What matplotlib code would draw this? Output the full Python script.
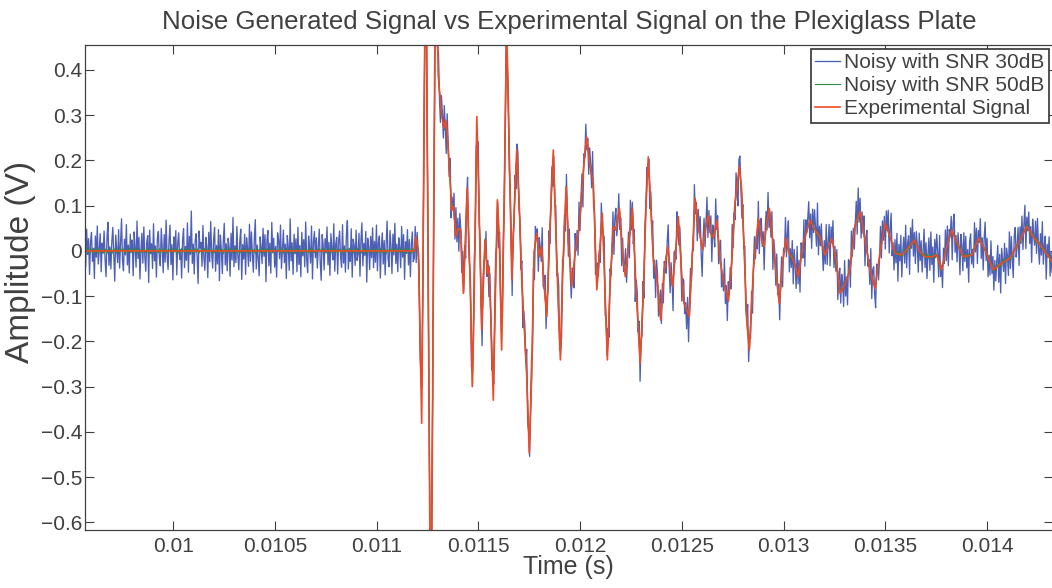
import numpy as np
import matplotlib.pyplot as plt

plt.rcParams['font.family'] = ['Liberation Sans', 'DejaVu Sans']

# experimental signal: time (s) / amplitude (V)
exp_t = [0.009564, 0.011185, 0.011193, 0.011205, 0.011221, 0.011241, 0.011266, 0.011289, 0.011303, 0.011311,
         0.011320, 0.011331, 0.011339, 0.011347, 0.011360, 0.011369, 0.011377, 0.011390, 0.011401, 0.011413,
         0.011426, 0.011445, 0.011459, 0.011470, 0.011478, 0.011492, 0.011503, 0.011516, 0.011532, 0.011544,
         0.011552, 0.011562, 0.011573, 0.011582, 0.011593, 0.011603, 0.011614, 0.011626, 0.011639, 0.011647,
         0.011664, 0.011677, 0.011688, 0.011701, 0.011713, 0.011724, 0.011737, 0.011750, 0.011762, 0.011773,
         0.011787, 0.011799, 0.011811, 0.011822, 0.011836, 0.011852, 0.011868, 0.011882, 0.011893, 0.011903,
         0.011914, 0.011931, 0.011942, 0.011959, 0.011975, 0.011996, 0.012016, 0.012032, 0.012049, 0.012065,
         0.012082, 0.012109, 0.012134, 0.012147, 0.012163, 0.012176, 0.012193, 0.012209, 0.012222, 0.012237,
         0.012257, 0.012273, 0.012295, 0.012311, 0.012324, 0.012335, 0.012347, 0.012360, 0.012377, 0.012396,
         0.012413, 0.012431, 0.012442, 0.012455, 0.012470, 0.012483, 0.012495, 0.012507, 0.012524, 0.012537,
         0.012549, 0.012565, 0.012581, 0.012603, 0.012618, 0.012630, 0.012642, 0.012655, 0.012672, 0.012688,
         0.012704, 0.012729, 0.012745, 0.012761, 0.012783, 0.012794, 0.012806, 0.012819, 0.012832, 0.012852,
         0.012876, 0.012893, 0.012904, 0.012917, 0.012930, 0.012947, 0.012967, 0.012979, 0.012996, 0.013012,
         0.013028, 0.013048, 0.013073, 0.013097, 0.013130, 0.013155, 0.013179, 0.013204, 0.013237, 0.013261,
         0.013278, 0.013302, 0.013327, 0.013351, 0.013376, 0.013401, 0.013425, 0.013450, 0.013474, 0.013499,
         0.013524, 0.013548, 0.013578, 0.013606, 0.013643, 0.013671, 0.013696, 0.013729, 0.013753, 0.013778,
         0.013802, 0.013827, 0.013851, 0.013884, 0.013925, 0.013961, 0.013991, 0.014031, 0.014073, 0.014114,
         0.014146, 0.014196, 0.014228, 0.014269, 0.014325]
exp_v = [0.0, 0.0, 0.031, -0.005, -0.381, 0.75, -0.95, 0.70, 0.385, 0.341,
         0.297, 0.271, 0.289, 0.26, 0.157, 0.090, 0.098, 0.031, 0.050, 0.046,
         -0.094, 0.138, -0.064, -0.300, -0.123, 0.297, 0.098, -0.175, 0.024, -0.050,
         -0.035, -0.160, -0.330, -0.123, 0.113, 0.024, -0.219, 0.098, 0.50, 0.319,
         -0.064, 0.098, 0.223, 0.098, -0.064, -0.160, -0.271, -0.447, -0.271, -0.005,
         0.039, -0.013, 0.009, -0.072, -0.145, 0.054, 0.223, 0.024, -0.123, -0.241,
         -0.050, 0.142, 0.024, -0.079, -0.005, 0.054, 0.179, 0.252, 0.186, 0.149,
         -0.086, 0.083, -0.241, -0.079, 0.054, 0.046, 0.094, -0.005, -0.057, 0.009,
         0.094, -0.064, -0.249, -0.094, 0.105, 0.208, 0.105, -0.020, -0.057, -0.153,
         -0.042, 0.009, -0.042, -0.079, 0.002, 0.076, -0.020, -0.109, -0.131, -0.145,
         -0.035, 0.116, 0.054, 0.002, 0.054, 0.079, 0.039, 0.028, 0.068, -0.020,
         -0.064, -0.112, -0.027, 0.105, 0.186, 0.135, 0.009, -0.153, -0.219, -0.042,
         0.072, 0.024, 0.009, 0.061, 0.094, 0.024, -0.064, -0.116, -0.027, 0.028,
         -0.005, -0.020, -0.057, 0.017, 0.068, 0.046, 0.031, -0.009, 0.028, -0.027,
         -0.094, -0.075, -0.042, 0.054, 0.087, 0.024, -0.042, -0.083, -0.005, 0.061,
         0.031, -0.005, -0.009, 0.002, 0.024, -0.002, -0.013, -0.013, -0.009, -0.042,
         0.009, 0.046, 0.020, -0.013, -0.009, 0.028, 0.002, -0.042, -0.027, -0.016,
         0.009, 0.054, 0.031, 0.009, -0.027]

# added noise, estimated from the traces (mV)
noise30_mv = [
    12, -35, 48, -8, 27, -52, 19, 41, -23, 6, -61, 33, -14, 55, -29, 2, 38, -46, 17, -5,
    44, -18, -57, 29, 63, -32, 9, -40, 21, 52, -11, -67, 35, 4, -26, 47, -38, 15, 71, -20,
    -44, 26, -9, 58, -31, 13, -49, 37, -3, 24, -55, 42, 8, -36, 66, -17, 30, -62, 1, 39,
    -27, 53, -12, -45, 20, 34, -70, 46, -6, 16, -39, 60, -22, 11, -58, 28, 43, -15, -33, 50,
    7, -48, 36, -25, 68, -10, -41, 22, 57, -30, 14, -64, 31, -2, 45, -53, 18, 40, -19, 3,
    -60, 25, 49, -37, 10, -21, 62, -47, 32, -8, 88, -28, 15, -51, 23, 38, -13, -72, 44, 6,
    19, -34, 56, -16, -43, 30, 9, -59, 41, -24, 65, -5, -38, 27, 52, -45, 12, -29, 47, -66,
    35, 2, -50, 23, 61, -31, 16, -44, 28, 7, -56, 39, -20, 74, -35, 11, -26, 54, -9, -42,
    21, 48, -63, 14, -18, 37, -52, 29, 5, -34, 59, -23, 42, -7, -47, 26, 69, -40, 13, -14,
    -55, 31, 8, -28, 50, -12, 36, -68, 22, 45, -33, 17, -49, 63, -4, 28, -36, 10, -58, 40,
    24, -17, 57, -39, 3, 46, -26, 15, -61, 34, 9, -43, 71, -22, 18, -52, 37, -6, 27, -46,
    52, -30, 12, -57, 41, -11, 25, -35, 64, -19, -48, 33, 6, -27, 55, -62, 20, 43, -15, 29,
    -38, 9, 48, -24, -65, 36, 14, -42, 27, -3, 53, -31, 19, -54, 38, 4, -20, 60, -45, 16,
    30, -51, 22, 44, -13, -36, 58, -27, 11, -47, 35, 67, -40, 2, -23, 49, -58, 26, 13, -32,
    46, -21, -7, 39, -56, 24, 62, -33, 17, -10, 43, -69, 28, 8, -41, 32, -15, 51, -37, 21,
    -25, 57, -44, 18, 33, -60, 5, 40, -29, 23, -53, 14, 66, -18, -35, 45, 10, -50, 37, -9,
    61, -28, 15, -46, 29, 8, -37, 54, -14, 36, -63, 20, -5, 47, -31, 25, -57, 12, 42, -24,
    -16, 38, -54, 27, -2, 50, -34, 19, 45, -42, 13, -26, 59, -48, 31, -8, 22, -39, 64, -19,
    33, -60, 24, 9, -38, 55, -21, -47, 36, 16, -30, 48, -11, -64, 41, 7, -25, 53, -43, 28,
    -6, 44, -33, 61, -18, 26, -50, 35, 3, -41, 57, -15, 30, -55, 19, 46, -28, -9, 38, -52,
    27, -12, 52, -45, 14, -31, 69, -23, 40, -8, -59, 32, 11, -37, 50, -20, 24, -65, 36, 5,
    -47, 29, -14, 43, 58, -27, 7, -53, 34, -1, 47, -35, 20, -44, 26, 63, -30, 15, -40, 22,
    39, -56, 18, -10, 35, -49, 28, 53, -22, 9, -36, 45, -61, 17, 31, -13, 56, -38, 4, -29,
    15, 49, -43, 25, -66, 37, -3, 21, -52, 42, 12, -28, 60, -34, -6, 48, -45, 27, -17, 55,
    -32, 8, 36, -58, 23, -16, 51, -40, 30, 65, -24, 6, -50, 39, -11, 27, -62, 44, 10, -35,
    54, -20, -41, 31, 4, -57, 42, -9, 22, -46, 58, -30, 13, 36, -67, 25, -4, 47, -26, 18,
    -43, 34, 11, -29, 62, -38, 17, -55, 28, 40, -19, 8, -48, 53, -33, 14, 70, -42, 20, -7,
    26, -53, 39, -15, 6, 46, -60, 24, 48, -25, -10, 41, -36, 19, -57, 33, -21, 12, 56, -39,
    -14, 30, -47, 60, -26, 15, -35, 44, -68, 23, 37, -12, 52, -41, 8, -29, 45, -54, 32, 2,
    41, -24, 18, -50, 28, -4, 55, -37, 13, -59, 34, 21, -45, 9, 61, -31, 26, -48, 16, -20,
    -37, 22, 58, -14, -49, 31, 7, -63, 40, 18, -27, 51, -8, -44, 35, 12, -56, 29, 47, -21,
    10, -42, 33, -60, 26, 55, -17, 4, -38, 62, -29, 15, -51, 37, -3, 44, -25, -66, 19, 48,
    -31, 6, 53, -46, 21, -12, 39, -58, 27, 9, -35, 60, -19, 32, -48, 14, 50, -40, 3, -23,
    57, -33, 16, -52, 43, -7, 28, -45, 65, -26, 11, -39, 47, -15, -61, 24, 36, -9, -50, 30,
    -18, 45, -35, 8, 59, -43, 20, -28, 34, -57, 13, 49, -22, 5, -46, 38, -64, 23, 41, -11,
    28, -54, 12, 37, -20, 51, -39, 3, -30, 46, -62, 25, 17, -34, 56, -13, 31, -47, 9, 42,
    -49, 19, -6, 54, -36, 24, 63, -41, 14, -24, 39, -53, 30, 2, -42, 58, -18, 26, -59, 35,
    13, -28, 47, -63, 32, -4, 21, 50, -37, 17, -55, 36, -12, 43, 6, -31, 67, -44, 22, -16,
    40, -9, -48, 26, -21, 61, -33, 12, 45, -52, 29, -7, 53, -40, 18, -26, 35, -57, 10, 50,
    -24, 36, 14, -43, 55, -29, 7, -61, 33, 22, -46, 59, -15, 27, -38, 4, 47, -32, 64, -18,
    31, -45, 25, -11, 40, -58, 18, 46, -20, 8, -34, 54, -49, 23, 37, -15, -52, 29, 12, -37,
    -7, 52, -30, 39, -16, 24, -55, 35, -2, 48, -41, 16, 60, -27, 9, -44, 30, -21, 45, -60,
    22, -14, 43, -50, 6, 34, -25, 57, -39, 13, 26, -62, 38, -10, 51, -33, 17, -47, 28, 3,
    -53, 38, -19, 27, -40, 12, 59, -24, 31, -48, 7, 42, -30, 55, -17, 21, -58, 36, -5, 46,
    16, -36, 62, -22, 9, -47, 30, -14, 50, -28, 41, -54, 19, -3, 34, -63, 25, 48, -31, 11,
    -42, 27, 4, -56, 38, 19, -33, 53, -11, 44, -26, 14, -59, 32, 47, -20, 8, -37, 57, -13,
    35, -48, 20, -8, 49, -35, 15, -52, 24, 62, -18, 37, -43, 10, -29, 52, -15, 28, -46, 18,
    -29, 14, 46, -37, 23, -64, 33, 5, -21, 40, -50, 27, 9, -36, 59, -24, 43, -11, -55, 32,
    48, -21, -3, 36, -52, 29, -12, 44, -34, 17, 55, -45, 21, -6, 39, -27, 14, -62, 37, 6,
    -15, 41, -28, 52, -9, -44, 26, -19, 58, -33, 12, 35, -57, 23, -2, 46, -38, 19, -24, 30]
noise50_mv = [
    3, -5, 1, 6, -2, -4, 7, -1, 2, -6, 4, 0, -3, 5, -7, 2, 6, -4, 1, -2,
    -5, 4, 2, -6, 3, -1, 5, -3, -7, 1, 6, -2, 4, -5, 0, 3, -4, 7, -1, 2,
    4, -2, -6, 3, 1, -5, 6, -3, 2, 5, -4, -1, 7, -2, 3, -6, 1, 4, -3, 0,
    -3, 6, -1, -4, 5, 2, -7, 3, 0, -2, 4, -5, 1, 6, -3, 2, -4, 5, -6, 3,
    1, -4, 5, -2, 3, -6, 2, 4, -1, -5, 6, -3, 0, 4, -2, 5, -7, 1, 3, -1,
    6, -3, 0, 4, -5, 2, -1, 7, -4, 1, 3, -6, 2, -2, 5, -3, 4, -1, -5, 2,
    -2, 5, -4, 1, 6, -3, 3, -5, 0, 4, -1, 2, -6, 5, -4, 1, 3, -2, 6, -3,
    4, -1, 3, -6, 2, 5, -4, 0, -3, 6, -2, 1, 4, -5, 3, -1, -4, 7, -2, 1,
    -6, 2, 4, -3, 1, -2, 5, -4, 3, 0, -5, 6, -1, 2, -3, 4, -6, 1, 5, -2,
    3, -4, 1, 5, -6, 2, -1, 4, -3, 6, -2, -5, 3, 1, -4, 2, 5, -3, 0, -1,
    -1, 6, -3, 2, 4, -5, 1, -2, 5, -4, 3, 0, -6, 4, 2, -3, 1, -5, 6, -2,
    5, -2, 0, -4, 3, 1, -6, 5, -1, 2, -3, 4, -2, -5, 6, -1, 3, -4, 2, 1,
    -4, 3, 5, -1, -3, 6, -2, 1, 4, -5, 2, -3, 5, 0, -4, 3, -1, 6, -5, 2,
    2, -5, 1, 4, -2, -3, 5, -6, 3, 1, -1, 4, -4, 6, -2, 0, 3, -5, 1, 4,
    -3, 1, 6, -4, 2, -1, -5, 3, 4, -2, 5, -6, 1, 3, -3, 2, -1, 4, -4, 0,
    2, -4, 5, -1, -3, 6, -2, 3, -5, 1, 4, -6, 2, 0, -3, 5, -1, 3, -4, 6,
    -1, 3, -5, 4, 1, -2, 6, -4, 2, -3, 0, 5, -6, 3, -1, 4, -2, -5, 6, -3,
    5, -6, 2, -1, 4, -3, 1, 6, -5, 3, -2, 0, 4, -4, 7, -1, 2, -3, 5, -2,
    -4, 1, 3, -5, 6, -2, -1, 4, -3, 2, 5, -6, 1, -2, 3, 0, -5, 6, -1, 4,
    3, -2, -4, 6, -1, 5, -3, 2, -6, 4, -1, 3, -5, 1, 6, -4, 2, -2, 0, 5,
    -6, 4, 1, -3, 2, -5, 6, -1, 3, -4, 5, -2, 0, 4, -3, 1, -6, 5, 2, -1,
    4, -3, 6, -2, -5, 1, 3, -4, 5, -1, -2, 6, -3, 2, -4, 5, 1, -6, 3, -2,
    1, 5, -4, 2, -6, 3, 0, -2, 4, -5, 6, -1, 2, -3, 5, -4, 1, 3, -5, 6,
    -2, -1, 4, -6, 3, 5, -3, 1, -4, 2, -5, 4, 6, -2, 1, -3, 5, -6, 2, 0,
    6, -4, 2, 1, -5, 3, -2, 5, -1, -3, 4, -6, 3, 0, -2, 6, -4, 1, 4, -5,
    -3, 2, -6, 5, 0, -1, 4, -5, 3, 6, -4, 1, -2, 5, -3, 2, -1, 4, -6, 3,
    2, -5, 3, -2, 6, -4, 1, -1, 5, -6, 2, 4, -3, 1, -5, 3, 6, -2, 0, -4,
    -5, 6, -1, 3, -4, 2, -3, 5, 0, -2, 6, -5, 4, -1, 2, -6, 3, 1, -4, 5,
    4, -2, 1, -6, 5, -3, 6, -1, -4, 3, 1, -5, 2, 4, -3, 6, -2, -1, 5, -4,
    -1, 3, -4, 2, 6, -5, 0, 4, -2, 1, -6, 3, 5, -4, 2, -1, 4, -3, 6, -2,
    3, -6, 5, -1, -2, 4, -5, 2, 6, -3, 1, -4, 3, 0, -5, 5, -2, 6, -1, -3,
    -4, 2, 0, 5, -3, 1, -6, 4, -1, 3, -2, 6, -5, 2, 4, -4, 1, -3, 5, -1,
    6, -1, -3, 4, -5, 2, 3, -6, 1, 5, -4, 0, 2, -2, 6, -5, 3, -1, -4, 4,
    -2, 5, -6, 1, 3, -4, 6, -2, -3, 2, 5, -1, -5, 4, 0, -3, 6, -6, 2, 1,
    1, -3, 4, -5, 2, 6, -4, 3, -1, -6, 4, 2, -2, 5, -3, 1, -5, 3, 4, -2,
    -5, 4, -2, 6, -1, -3, 2, 5, -6, 3, -1, 4, 1, -4, 5, -2, -3, 6, -5, 2,
    3, -1, 5, -4, 0, 2, -6, 4, 3, -5, 6, -2, -1, 3, -4, 5, 2, -6, 1, 4,
    -3, 6, -4, 2, 5, -1, 1, -5, 4, -2, -3, 6, -6, 2, 3, -4, 5, -1, 0, -5,
    5, -2, 3, -6, 1, 4, -3, 2, -5, 6, 0, -4, 3, -1, 5, -3, -2, 4, -6, 3,
    -1, 4, -5, 3, -2, 6, -4, 1, 2, -3, 5, -6, 4, -1, -2, 3, 6, -5, 2, -4,
    2, -6, 1, 5, -3, -2, 4, -1, 6, -4, 3, 1, -5, 2, -3, 6, -1, 4, -6, 0,
    -4, 3, 6, -2, 1, -5, 2, 4, -3, 5, -6, 2, 0, -1, 4, -4, 3, 5, -2, -3,
    6, -3, -1, 2, -5, 4, -2, 6, -4, 1, 3, -6, 5, -2, 1, -3, 4, -5, 2, 3,
    -2, 1, 4, -6, 3, -1, 5, -3, 0, 6, -5, 2, -4, 3, 1, -2, 5, -6, 4, -1,
    4, -5, 2, 3, -4, 6, -1, -2, 5, -3, 1, 4, -6, 2, -1, 5, -3, 0, 6, -4,
    -6, 2, -3, 5, 1, -4, 3, -5, 6, -1, 2, -2, 4, -6, 3, 1, -4, 5, -3, 2,
    1, 4, -2, -5, 6, -3, 2, 1, -4, 5, -6, 3, -1, 4, -2, 0, 6, -5, 3, -3,
    -3, 5, -1, 4, -6, 2, -2, 6, -5, 3, 4, -1, -3, 1, 5, -4, 2, -6, 3, 1,
    5, -4, 3, -1, 2, -6, 4, 0, -3, 6, -2, 1, 5, -5, 2, -1, -4, 3, 6, -2,
    -1, 2, -5, 6, -3, 4, 1, -6, 3, -2, 5, -4, 2, 1, -3, 6, -5, 4, -1, 3]

series_labels = ['Noisy with SNR 30dB', 'Noisy with SNR 50dB', 'Experimental Signal']
xticks = [0.01, 0.0105, 0.011, 0.0115, 0.012, 0.0125, 0.013, 0.0135, 0.014]
xtick_labels = ['0.01', '0.0105', '0.011', '0.0115', '0.012', '0.0125', '0.013', '0.0135', '0.014']
yticks = [-0.6, -0.5, -0.4, -0.3, -0.2, -0.1, 0, 0.1, 0.2, 0.3, 0.4]
ytick_labels = ['\u22120.6', '\u22120.5', '\u22120.4', '\u22120.3', '\u22120.2', '\u22120.1',
                '0', '0.1', '0.2', '0.3', '0.4']

txt = '#404040'

t30 = np.linspace(exp_t[0], exp_t[-1], len(noise30_mv))
noisy30 = np.interp(t30, exp_t, exp_v) + np.array(noise30_mv) / 1000.0
t50 = np.linspace(exp_t[0], exp_t[-1], len(noise50_mv))
noisy50 = np.interp(t50, exp_t, exp_v) + np.array(noise50_mv) / 1000.0

fig = plt.figure(figsize=(10.52, 5.88), dpi=100)
ax = fig.add_axes([84.7 / 1052, 1 - 530.3 / 588, (1053 - 84.7) / 1052, (530.3 - 44.7) / 588])

ax.plot(t30, noisy30, color='#4d60b6', lw=0.95, label=series_labels[0])
ax.plot(t50, noisy50, color='#2b8a3e', lw=0.8, label=series_labels[1])
ax.plot(exp_t, exp_v, color='#ef4a28', lw=1.2, label=series_labels[2])

ax.set_xlim(0.009564, 0.014325)
ax.set_ylim(-0.6177, 0.4559)
ax.set_xticks(xticks)
ax.set_xticklabels(xtick_labels)
ax.set_yticks(yticks)
ax.set_yticklabels(ytick_labels)
ax.tick_params(direction='in', top=True, right=True, length=6.5, width=0.8,
               colors=txt, labelsize=15)
ax.tick_params(axis='x', pad=5)
ax.tick_params(axis='y', pad=2)
for s in ax.spines.values():
    s.set_color(txt)
    s.set_linewidth(0.9)

ax.set_title('Noise Generated Signal vs Experimental Signal on the Plexiglass Plate',
             fontsize=18.6, color=txt, pad=11)
ax.set_xlabel('Time (s)', fontsize=18, color=txt, labelpad=-1)
ax.set_ylabel('Amplitude (V)', fontsize=24, color=txt)
ax.yaxis.set_label_coords(-0.05, 0.5535)

leg = ax.legend(loc='upper right', bbox_to_anchor=(1048.7 / 1052, 1 - 49 / 588),
                bbox_transform=fig.transFigure, fontsize=15, fancybox=False,
                edgecolor='#333333', framealpha=1, borderaxespad=0,
                handlelength=1.2, handletextpad=0.2, labelspacing=0.2, borderpad=0.2)
leg.get_frame().set_linewidth(1.2)
for t in leg.get_texts():
    t.set_color(txt)

fig.savefig('out.png', dpi=100)
